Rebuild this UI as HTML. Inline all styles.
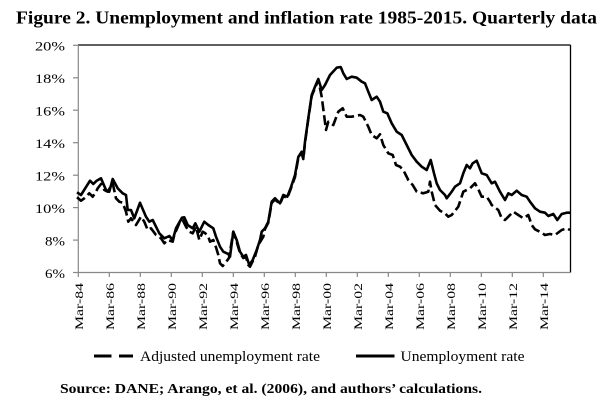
<!DOCTYPE html>
<html><head><meta charset="utf-8"><style>
html,body{margin:0;padding:0;background:#fff;}
svg{display:block;}
text{font-family:"Liberation Serif","Times New Roman",serif;fill:#000;}
</style></head><body>
<svg width="613" height="413" viewBox="0 0 613 413" xmlns="http://www.w3.org/2000/svg">
<text x="16" y="23.5" font-size="17.5" font-weight="bold" textLength="581" lengthAdjust="spacingAndGlyphs">Figure 2. Unemployment and inflation rate 1985-2015. Quarterly data</text>

<!-- axes -->
<line x1="78" y1="45" x2="570.5" y2="45" stroke="#000" stroke-width="1.3"/>
<line x1="570.5" y1="45" x2="570.5" y2="272.5" stroke="#000" stroke-width="1.3"/>
<line x1="78.3" y1="45" x2="78.3" y2="272.5" stroke="#888" stroke-width="1.2"/>
<line x1="78" y1="272.5" x2="570.5" y2="272.5" stroke="#888" stroke-width="1.2"/>
<g stroke="#888" stroke-width="1.2">
<line x1="73" y1="45.3" x2="78" y2="45.3"/>
<line x1="73" y1="77.8" x2="78" y2="77.8"/>
<line x1="73" y1="110.2" x2="78" y2="110.2"/>
<line x1="73" y1="142.7" x2="78" y2="142.7"/>
<line x1="73" y1="175.2" x2="78" y2="175.2"/>
<line x1="73" y1="207.6" x2="78" y2="207.6"/>
<line x1="73" y1="240.1" x2="78" y2="240.1"/>
<line x1="73" y1="272.5" x2="78" y2="272.5"/>
<line x1="78.3" y1="272.5" x2="78.3" y2="277"/>
<line x1="109.3" y1="272.5" x2="109.3" y2="277"/>
<line x1="140.3" y1="272.5" x2="140.3" y2="277"/>
<line x1="171.3" y1="272.5" x2="171.3" y2="277"/>
<line x1="202.3" y1="272.5" x2="202.3" y2="277"/>
<line x1="233.3" y1="272.5" x2="233.3" y2="277"/>
<line x1="264.3" y1="272.5" x2="264.3" y2="277"/>
<line x1="295.3" y1="272.5" x2="295.3" y2="277"/>
<line x1="326.3" y1="272.5" x2="326.3" y2="277"/>
<line x1="357.3" y1="272.5" x2="357.3" y2="277"/>
<line x1="388.3" y1="272.5" x2="388.3" y2="277"/>
<line x1="419.3" y1="272.5" x2="419.3" y2="277"/>
<line x1="450.3" y1="272.5" x2="450.3" y2="277"/>
<line x1="481.3" y1="272.5" x2="481.3" y2="277"/>
<line x1="512.3" y1="272.5" x2="512.3" y2="277"/>
<line x1="543.3" y1="272.5" x2="543.3" y2="277"/>
</g>

<!-- y labels -->
<g font-size="13" text-anchor="end">
<text x="65" y="50.7" textLength="30" lengthAdjust="spacingAndGlyphs">20%</text>
<text x="65" y="83.2" textLength="30" lengthAdjust="spacingAndGlyphs">18%</text>
<text x="65" y="115.6" textLength="30" lengthAdjust="spacingAndGlyphs">16%</text>
<text x="65" y="148.1" textLength="30" lengthAdjust="spacingAndGlyphs">14%</text>
<text x="65" y="180.6" textLength="30" lengthAdjust="spacingAndGlyphs">12%</text>
<text x="65" y="213" textLength="30" lengthAdjust="spacingAndGlyphs">10%</text>
<text x="65" y="245.5" textLength="20" lengthAdjust="spacingAndGlyphs">8%</text>
<text x="65" y="277.9" textLength="20" lengthAdjust="spacingAndGlyphs">6%</text>
</g>

<!-- x labels -->
<g font-size="12" text-anchor="end">
<text transform="translate(83,283) rotate(-90)" textLength="47" lengthAdjust="spacingAndGlyphs">Mar-84</text>
<text transform="translate(114,283) rotate(-90)" textLength="47" lengthAdjust="spacingAndGlyphs">Mar-86</text>
<text transform="translate(145,283) rotate(-90)" textLength="47" lengthAdjust="spacingAndGlyphs">Mar-88</text>
<text transform="translate(176,283) rotate(-90)" textLength="47" lengthAdjust="spacingAndGlyphs">Mar-90</text>
<text transform="translate(207,283) rotate(-90)" textLength="47" lengthAdjust="spacingAndGlyphs">Mar-92</text>
<text transform="translate(238,283) rotate(-90)" textLength="47" lengthAdjust="spacingAndGlyphs">Mar-94</text>
<text transform="translate(269,283) rotate(-90)" textLength="47" lengthAdjust="spacingAndGlyphs">Mar-96</text>
<text transform="translate(300,283) rotate(-90)" textLength="47" lengthAdjust="spacingAndGlyphs">Mar-98</text>
<text transform="translate(331,283) rotate(-90)" textLength="47" lengthAdjust="spacingAndGlyphs">Mar-00</text>
<text transform="translate(362,283) rotate(-90)" textLength="47" lengthAdjust="spacingAndGlyphs">Mar-02</text>
<text transform="translate(393,283) rotate(-90)" textLength="47" lengthAdjust="spacingAndGlyphs">Mar-04</text>
<text transform="translate(424,283) rotate(-90)" textLength="47" lengthAdjust="spacingAndGlyphs">Mar-06</text>
<text transform="translate(455,283) rotate(-90)" textLength="47" lengthAdjust="spacingAndGlyphs">Mar-08</text>
<text transform="translate(486,283) rotate(-90)" textLength="47" lengthAdjust="spacingAndGlyphs">Mar-10</text>
<text transform="translate(517,283) rotate(-90)" textLength="47" lengthAdjust="spacingAndGlyphs">Mar-12</text>
<text transform="translate(548,283) rotate(-90)" textLength="47" lengthAdjust="spacingAndGlyphs">Mar-14</text>
</g>

<!-- dashed: adjusted unemployment -->
<polyline fill="none" stroke="#000" stroke-width="2.6" stroke-linejoin="round" stroke-dasharray="10 4"
points="77,197.3 81,200.7 84.3,198.3 89.3,193.3 92.7,196.7 96,191.7 97.7,188.3 101,184 104.3,190 107.7,191.7 112.7,183.3 116,198.3 119.3,201.7 122.7,202.7 126,211.7 128.3,221.7 131,218.3 136,225 141,216.7 144.3,221.7 147.7,230 151,228.3 156,235 161,238.3 164.3,243.3 167.7,240 172.7,241.7 174.3,235 179.3,223.3 182.7,220 186,226.7 189.3,231.7 192.7,233.3 196,226.7 199.3,240 202.7,231.7 205,233 208.3,236.7 210,241.7 213.3,240 216,247.3 218.3,255 220,263.3 222.7,266 226,262 229,258 233.3,231.7 236.7,242 240,253 243.3,258 246,257 248.3,265 250,266.7 255,256.7 258.3,245 263.3,236.7 265,229 268.3,222.7 271.7,203 275,199.5 280,204 283.3,196 287.3,198 290.7,189 295,177 298.3,158 301.7,153 303.3,159 305,143 308.3,119 311.7,96 315,88 318.3,80 321.7,96.7 326,130 328.3,121.7 333.3,125 338.3,111.7 342.7,108.3 346.7,116.7 351.7,116.7 360,115 363.3,116.7 368.3,126.7 371.7,135 376.7,138.3 380,134.3 383.3,145 388.3,153.3 392.7,155 396,165 400,166.7 403.3,170 408.3,180 412.7,185 416.7,191.7 423.3,193.3 428.3,191.7 430,181.7 431.7,191.7 435,205 440,210.7 445,213.3 448.3,216.7 451.7,215 458.3,206.7 463.3,191.7 470,188.3 475,183.3 478.3,189.3 481.7,196.7 486.7,196.7 490,201.7 491.7,205 498.3,210 501.7,218.3 505,220 513.3,211.7 518.3,215 523.3,218.3 528.3,215 531.7,225 535,229.3 541.7,232.7 545,235 550,234 555,235 561.7,230 566.7,228.3 570,230"/>

<!-- solid: unemployment -->
<polyline fill="none" stroke="#000" stroke-width="2.6" stroke-linejoin="round"
points="77,192.3 81,195 90,180.7 93.3,184 96.7,180.7 101,178.3 106,190 109.3,191.7 112.7,179 117.7,188.3 122.7,193.3 126,195 127.7,210 131,210 134.3,218.3 140,202.7 146,216.7 149.3,221.7 152.7,220 159.3,233.3 164.3,238.3 169.3,236 172.7,240 176,228.3 182,217.7 184.3,217.3 187.7,225 192.7,228.3 195.3,223.3 199.3,231.7 204.3,221.7 208.3,225 213.3,228.3 216,236.7 220,246.7 223.3,251.7 228.3,254 230,256.7 233.3,231.7 236.7,240 240,251.7 243.3,256.7 246,255 249.3,265 252.7,260 256.7,250 260,240 261.7,231.7 265,228.3 268.3,221.7 271.7,201.7 275,198.3 280,203.3 283.3,195 287.3,196.7 290.7,188 295,175 298.3,157 301.7,151.7 303.3,158.3 305,141.7 308.3,118.3 311.7,95 315,86.7 318.3,79 321.7,90 325,85 330,75 336.7,67.7 340.7,67 343.3,73.3 346.7,79 351.7,76.7 356.7,77.7 361.7,81.7 365,83.3 368.3,91.7 371.7,100 376.7,96.7 380,101.7 383.3,111.7 387.3,113.3 391.7,123.3 396.7,131.7 401.7,135 406.7,145 411.7,155 416.7,161.7 421.7,166.7 426.7,170 430.7,160 434,173.3 436.7,183.3 440,190 445,195 446.7,198.3 451.7,191.7 455,186.7 460,183.3 463.3,173.3 466.7,165 470,168.3 472.7,163.3 476.7,160.7 481.7,173.3 486.7,175 491.7,183.3 495,181.7 500,191.7 505,200 508.3,193.3 511.7,195 516.7,190.7 521.7,195 526.7,196.7 530,201.7 535,208.3 540,211.7 545,212.7 548.3,216 553.3,214 557.3,220 561.7,214 566.7,212.7 570,212.7"/>

<!-- legend -->
<line x1="94" y1="356" x2="111.5" y2="356" stroke="#000" stroke-width="3"/>
<line x1="119" y1="356" x2="133" y2="356" stroke="#000" stroke-width="3"/>
<text x="140" y="361" font-size="15" textLength="180" lengthAdjust="spacingAndGlyphs">Adjusted unemployment rate</text>
<line x1="356" y1="356" x2="394.5" y2="356" stroke="#000" stroke-width="3"/>
<text x="400.5" y="361" font-size="15" textLength="124" lengthAdjust="spacingAndGlyphs">Unemployment rate</text>

<text x="60" y="393" font-size="13.5" font-weight="bold" textLength="422" lengthAdjust="spacingAndGlyphs">Source: DANE; Arango, et al. (2006), and authors’ calculations.</text>
</svg>
</body></html>
